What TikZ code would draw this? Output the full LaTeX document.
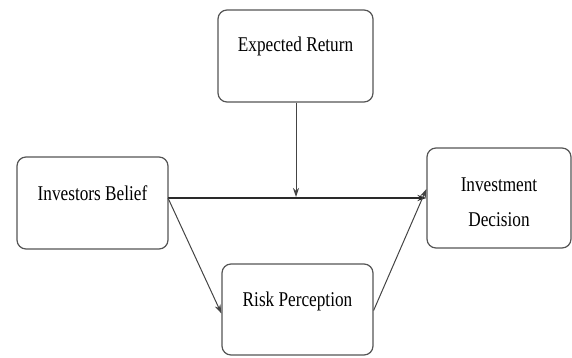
\documentclass[tikz,border=0pt]{standalone}
\usepackage{fontspec}
\setmainfont{Liberation Serif}
\usetikzlibrary{arrows.meta}
\definecolor{boxline}{HTML}{555555}
\definecolor{conn}{HTML}{2A2A2A}
\definecolor{connlight}{HTML}{444444}
\newcommand{\boxtext}[1]{\scalebox{0.82}[1]{\fontsize{21}{35}\selectfont #1}}
\tikzset{
  box/.style={draw=boxline, line width=1.2pt, rounded corners=9pt, fill=white, inner sep=0pt},
  lbl/.style={inner sep=0pt, text=black, align=center},
  conn/.style={draw=conn, line width=1.6pt, -{Stealth[length=9pt,width=6pt]}},
  connthin/.style={draw=connlight, line width=1.0pt, -{Stealth[length=9pt,width=6pt]}}
}
\begin{document}
\begin{tikzpicture}[x=1pt,y=-1pt]
\useasboundingbox (0,0) rectangle (572,358);
\node[box, minimum width=155pt, minimum height=92pt] (er) at (295.5,56) {};
\node[lbl] (erl) at (295.5,46) {\boxtext{Expected Return}};
\node[box, minimum width=151pt, minimum height=92pt] (ib) at (92.5,203) {};
\node[lbl] (ibl) at (92.5,193) {\boxtext{Investors Belief}};
\node[box, minimum width=144pt, minimum height=100pt] (id) at (499,198) {};
\node[lbl] (idl) at (499,202) {\boxtext{\begin{tabular}{@{}c@{}}Investment\\Decision\end{tabular}}};
\node[box, minimum width=151pt, minimum height=91pt] (rp) at (297.5,309.5) {};
\node[lbl] (rpl) at (297.5,301) {\boxtext{Risk Perception}};
\coordinate (st) at (168,198);
\coordinate (mid) at (296,197);
\draw[conn] (st) -- (id.west |- st);
\draw[connthin] (er.south -| mid) -- (mid);
\draw[connthin] (st) -- ([yshift=-4pt]rp.west);
\draw[connthin] ([yshift=-1pt]rp.east) -- ([yshift=9pt]id.west);
\end{tikzpicture}
\end{document}
